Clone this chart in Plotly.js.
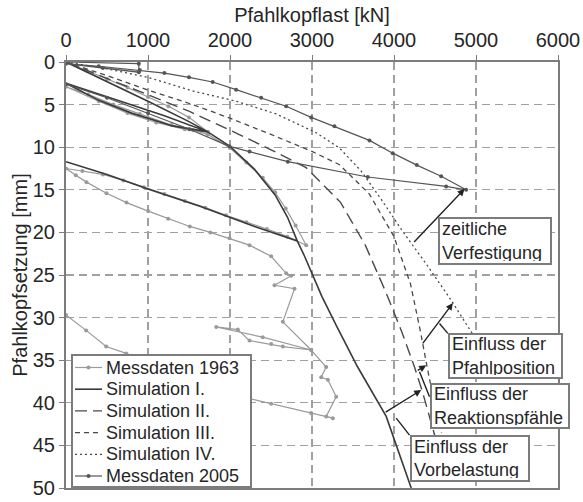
<!DOCTYPE html>
<html><head><meta charset="utf-8">
<script src="https://cdn.plot.ly/plotly-3.0.1.min.js"></script>
<style>html,body{margin:0;padding:0;background:#fff}#chart{width:583px;height:502px}</style>
</head><body><div id="chart"></div>
<script>
const xTicks = [0,1000,2000,3000,4000,5000,6000];
const yTicks = [0,5,10,15,20,25,30,35,40,45,50];
const seriesNames = ['Messdaten 1963','Simulation I.','Simulation II.','Simulation III.','Simulation IV.','Messdaten 2005'];

// Messdaten 1963 (load in kN, settlement in mm)
const m63X = [0,250,500,750,1000,1250,1500,1730, 1450,1100,750,400,0,
  270,576,900,1287,1550,1730, 2000,2200,2400,2550,2680,2800,2929,
  2700,2450,2200,1950,1700,1450,1200,950,700,450,200,0,
  120,250,494,738,1002,1246,1510,1760,1994,2238,2502,2685,
  2746,2543,2787,2644,2990, 2400,1832, 2095,2238,2502,2644,2990,
  3173,3112,3193,3295,3173,3254,
  2990,2502,2238,1700,1200,734,490,246,0];
const m63Y = [0,1.0,2.0,3.0,4.1,5.2,6.5,8.2, 7.9,7.1,6.0,4.6,2.9,
  3.8,5.0,6.1,7.4,8.0,8.5, 10.1,11.8,13.6,15.3,17.2,19.2,21.5,
  20.5,19.6,18.8,18.0,17.1,16.3,15.5,14.7,13.9,13.2,12.8,12.5,
  13.3,14.1,15.4,16.5,17.5,18.4,19.3,20.0,20.7,21.5,22.8,24.8,
  25.1,26.2,26.6,30.5,33.8, 32.3,31.1, 31.4,32.7,33.1,33.4,33.8,
  35.8,37.0,37.3,39.3,41.6,41.8,
  41.2,40.1,39.5,37.8,36.2,34.2,33.4,31.5,29.7];

// Simulation I
const s1X = [0,500,1000,1500,1730, 1300,800,400,0, 600,1200,1730,
  2000,2300,2550,2700,2820, 2300,1650,1000,500,0, 500,1000,1650,2300,2820,
  2900,3000,3120,3300,3557,3905,4210];
const s1Y = [0,2.3,4.6,7.0,8.2, 7.5,6.0,4.5,2.5, 4.4,6.3,8.2,
  9.9,12.6,15.6,18.2,21.0, 19.3,17.0,14.9,13.2,11.7, 13.2,14.9,17.0,19.3,21.0,
  22.6,24.8,27.5,31.0,35.8,41.6,50.0];

// Simulation II
const s2X = [0,500,1000,1506,2000,2500,2929,3350,3650,3900,4100,4250,4350,4470,4560];
const s2Y = [0,1.9,3.8,5.8,8.0,10.3,12.4,16.5,21.5,27.0,31.8,35.8,38.8,43.0,46.0];

// Simulation III
const s3X = [0,500,1000,1546,2000,2500,3000,3335,3700,4000,4200,4320,4400,4480,4580];
const s3Y = [0,1.6,3.3,5.0,6.6,8.5,10.5,12.05,15.5,20.5,26.0,31.5,35.6,39.5,43.5];

// Simulation IV
const s4X = [0,500,1000,1546,2075,2563,3051,3335,3600,3850,4100,4400,4700,4950,5100];
const s4Y = [0,0.8,1.8,3.4,4.6,6.1,8.3,10.1,12.8,16.2,19.8,23.8,28.0,31.8,34.5];

// Messdaten 2005
const m05X = [0,888,888,450,0, 400,900,1200,1500,1789,2075,2380,2685,2990,3274,3701,3985,4278,4575,4880,
  4636,3680,2705,2238,1994,1506,1000,500,0];
const m05Y = [0,0.2,1.2,0.7,0.2, 0.5,0.95,1.3,1.8,2.35,3.25,4.2,5.2,6.5,7.55,9.2,10.7,12.1,13.4,15.0,
  14.6,13.5,11.7,10.5,9.9,7.9,6.0,4.2,2.6];

const txt = '#262626';
const frame = '#7c7c7c';
const FONT = 'Liberation Sans, Arial, sans-serif';

const styles = [
  {mode:'lines+markers', line:{color:'#9a9a9a', width:1.2}, marker:{color:'#9a9a9a', size:4}},
  {mode:'lines', line:{color:'#3a3a3a', width:1.6}},
  {mode:'lines', line:{color:'#4a4a4a', width:1.4, dash:'12px,6px'}},
  {mode:'lines', line:{color:'#4a4a4a', width:1.3, dash:'5px,4px'}},
  {mode:'lines', line:{color:'#4a4a4a', width:1.3, dash:'2px,3px'}},
  {mode:'lines+markers', line:{color:'#555555', width:1.2}, marker:{color:'#555555', size:4}}
];
const dataX = [m63X, s1X, s2X, s3X, s4X, m05X];
const dataY = [m63Y, s1Y, s2Y, s3Y, s4Y, m05Y];

const traces = seriesNames.map((n, i) => Object.assign({x:dataX[i], y:dataY[i], name:n, showlegend:false}, styles[i]));

function arrow(x, y, ax, ay) {
  return {x:x, y:y, ax:ax, ay:ay, xref:'x', yref:'y', axref:'x', ayref:'y',
    showarrow:true, arrowhead:2, arrowsize:1, arrowwidth:1.4, arrowcolor:'#222',
    text:'', standoff:0, startstandoff:0};
}
function box(x, y, text, w, h) {
  return {x:x, y:y, xref:'x', yref:'y', text:text, showarrow:false, align:'left',
    font:{family:FONT, size:18, color:txt},
    bgcolor:'#ffffff', bordercolor:frame, borderwidth:2, borderpad:2, width:w, height:h};
}
function leader(x0, y0, x1, y1) {
  return {type:'line', xref:'x', yref:'y', x0:x0, y0:y0, x1:x1, y1:y1,
    line:{color:'#222', width:1.4}};
}

// hand-built legend (paper coordinates), to match the compact row spacing
const plotL = 66, plotW = 492, plotB = 488, plotH = 426;
const px2x = p => (p - plotL) / plotW;
const py2y = p => (plotB - p) / plotH;
const legShapes = [{type:'rect', xref:'paper', yref:'paper', layer:'above',
  x0:px2x(72), x1:px2x(251), y0:py2y(487), y1:py2y(355),
  fillcolor:'#ffffff', line:{color:frame, width:2}}];
const legAnn = [];
seriesNames.forEach((n, i) => {
  const yy = py2y(367.5 + i * 21.7);
  legShapes.push({type:'line', xref:'paper', yref:'paper', layer:'above',
    x0:px2x(75), x1:px2x(102), y0:yy, y1:yy,
    line:{color:styles[i].line.color, width:styles[i].line.width, dash:styles[i].line.dash || 'solid'}});
  if (styles[i].marker) {
    legShapes.push({type:'circle', xref:'paper', yref:'paper', layer:'above',
      x0:px2x(86.5), x1:px2x(90.5), y0:yy - 2/plotH, y1:yy + 2/plotH,
      fillcolor:styles[i].marker.color, line:{width:0}});
  }
  legAnn.push({xref:'paper', yref:'paper', x:px2x(104), y:yy, xanchor:'left', yanchor:'middle',
    text:n, showarrow:false, font:{family:FONT, size:18, color:txt}});
});

const layout = {
  width:583, height:502,
  margin:{l:66, r:25, t:62, b:14},
  paper_bgcolor:'#ffffff', plot_bgcolor:'#ffffff',
  font:{family:FONT, color:txt},
  showlegend:false,
  xaxis:{side:'top', range:[0,6000], tickmode:'array', tickvals:xTicks,
    showgrid:true, gridcolor:'#a0a0a0', gridwidth:1.3, griddash:'8px,5px',
    zeroline:false, showline:true, mirror:true, linecolor:frame, linewidth:2,
    ticks:'outside', ticklen:5, tickcolor:frame, tickfont:{size:20, color:txt},
    title:{text:'Pfahlkopflast [kN]', font:{size:20, color:txt}, standoff:1}},
  yaxis:{range:[50,0], tickmode:'array', tickvals:yTicks,
    showgrid:true, gridcolor:'#a0a0a0', gridwidth:1.3, griddash:'8px,5px',
    zeroline:false, showline:true, mirror:true, linecolor:frame, linewidth:2,
    ticks:'outside', ticklen:5, tickcolor:frame, tickfont:{size:20, color:txt},
    title:{text:'Pfahlkopfsetzung [mm]', font:{size:20, color:txt}, standoff:0}},
  annotations:[
    arrow(4860, 14.9, 4228, 21.3),
    arrow(4718, 28.3, 4337, 33.2),
    arrow(4393, 35.6, 4271, 36.3),
    arrow(4332, 38.5, 3880, 41.2),
    box(5226, 21.0, 'zeitliche<br>Verfestigung', 106, 40),
    box(5354, 34.45, 'Einfluss der<br>Pfahlposition', 107, 38),
    box(5287, 40.4, 'Einfluss der<br>Reaktionspfähle', 132, 38),
    box(4921, 46.5, 'Einfluss der<br>Vorbelastung', 112, 39)
  ].concat(legAnn),
  shapes:[
    leader(4555, 30.7, 4656, 31.85),
    leader(4311, 36.35, 4433, 39.3),
    leader(4027, 41.8, 4189, 43.8)
  ].concat(legShapes)
};

Plotly.newPlot('chart', traces, layout, {displayModeBar:false, staticPlot:true});
</script>
</body></html>
